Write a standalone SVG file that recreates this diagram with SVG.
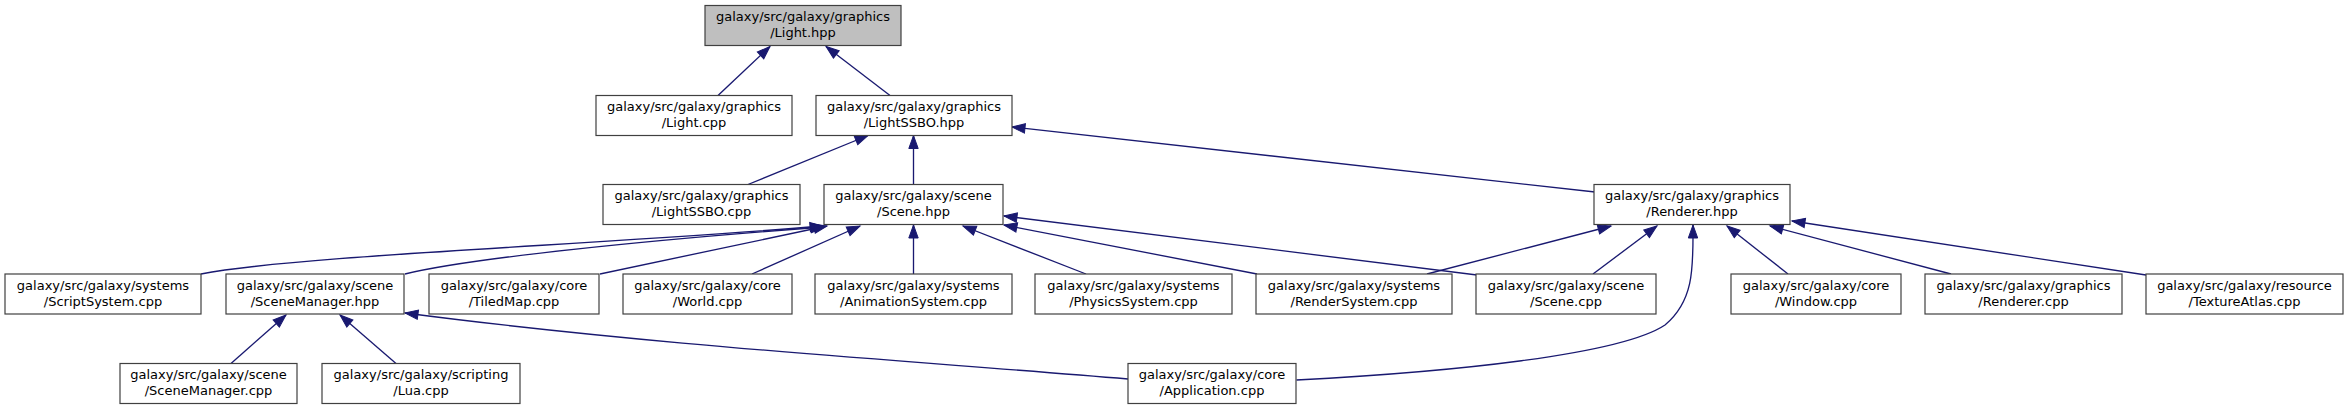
<svg xmlns="http://www.w3.org/2000/svg" width="2347" height="409" viewBox="0 0 2347 409">
<style>
.node rect{fill:#ffffff;stroke:#404040;stroke-width:1.2}
.root rect{fill:#bfbfbf}
text{font-family:"DejaVu Sans","Liberation Sans",sans-serif;font-size:13px;text-anchor:middle;fill:#000}
.edge path{fill:none;stroke:#191970;stroke-width:1.33;marker-end:url(#arr)}
</style>
<defs>
<marker id="arr" markerUnits="userSpaceOnUse" markerWidth="16" markerHeight="12" viewBox="0 0 16 12" refX="14" refY="6" orient="auto" overflow="visible">
<path d="M1,1.3 L14,6 L1,10.7 z" fill="#191970" stroke="#191970" stroke-width="1"/>
</marker>
</defs>
<rect width="2347" height="409" fill="#ffffff"/>
<g id="edges" class="edge">
<path d="M718,95.5 L770,46.5"/>
<path d="M890,95.5 L826,46.5"/>
<path d="M748,184.5 L868,135.5"/>
<path d="M913.5,184.5 L913.5,135.5"/>
<path d="M1595,192 L1012,127"/>
<path d="M201,274 C300,255 600,245 823,226"/>
<path d="M405,274 C470,258 650,240 824,227"/>
<path d="M600,274 L827,226"/>
<path d="M752,274 L860,226"/>
<path d="M913.5,274 L913.5,225"/>
<path d="M1086,274 L963,226"/>
<path d="M1257,274 L1004,225"/>
<path d="M1477,275 L1004,216"/>
<path d="M1427,274 L1611,226"/>
<path d="M1593,274 L1657,226"/>
<path d="M1296.5,380 C1450,372 1620,355 1665,325 C1695,300 1693,265 1693,225"/>
<path d="M1788,274 L1727,226"/>
<path d="M1951,274 L1770,226"/>
<path d="M2146,275 L1792,221"/>
<path d="M231,363.5 L286,315"/>
<path d="M396,363.5 L340,315"/>
<path d="M1128,379 C900,360 650,345 405,313"/>
</g>
<g id="n_light_hpp" class="node root"><rect x="705" y="5.5" width="196" height="40"/><text x="803" y="21">galaxy/src/galaxy/graphics</text><text x="803" y="37">/Light.hpp</text></g>
<g id="n_light_cpp" class="node"><rect x="596" y="95.5" width="196" height="40"/><text x="694" y="111">galaxy/src/galaxy/graphics</text><text x="694" y="127">/Light.cpp</text></g>
<g id="n_lightssbo_hpp" class="node"><rect x="816" y="95.5" width="196" height="40"/><text x="914" y="111">galaxy/src/galaxy/graphics</text><text x="914" y="127">/LightSSBO.hpp</text></g>
<g id="n_lightssbo_cpp" class="node"><rect x="603" y="184.5" width="197" height="40"/><text x="701.5" y="200">galaxy/src/galaxy/graphics</text><text x="701.5" y="216">/LightSSBO.cpp</text></g>
<g id="n_scene_hpp" class="node"><rect x="824" y="184.5" width="179" height="40"/><text x="913.5" y="200">galaxy/src/galaxy/scene</text><text x="913.5" y="216">/Scene.hpp</text></g>
<g id="n_renderer_hpp" class="node"><rect x="1594" y="184.5" width="196" height="40"/><text x="1692" y="200">galaxy/src/galaxy/graphics</text><text x="1692" y="216">/Renderer.hpp</text></g>
<g id="n_scriptsystem_cpp" class="node"><rect x="5" y="274" width="196" height="40"/><text x="103" y="289.5">galaxy/src/galaxy/systems</text><text x="103" y="305.5">/ScriptSystem.cpp</text></g>
<g id="n_scenemanager_hpp" class="node"><rect x="226" y="274" width="178" height="40"/><text x="315" y="289.5">galaxy/src/galaxy/scene</text><text x="315" y="305.5">/SceneManager.hpp</text></g>
<g id="n_tiledmap_cpp" class="node"><rect x="429" y="274" width="170" height="40"/><text x="514" y="289.5">galaxy/src/galaxy/core</text><text x="514" y="305.5">/TiledMap.cpp</text></g>
<g id="n_world_cpp" class="node"><rect x="623" y="274" width="169" height="40"/><text x="707.5" y="289.5">galaxy/src/galaxy/core</text><text x="707.5" y="305.5">/World.cpp</text></g>
<g id="n_animationsystem_cpp" class="node"><rect x="815" y="274" width="197" height="40"/><text x="913.5" y="289.5">galaxy/src/galaxy/systems</text><text x="913.5" y="305.5">/AnimationSystem.cpp</text></g>
<g id="n_physicssystem_cpp" class="node"><rect x="1035" y="274" width="197" height="40"/><text x="1133.5" y="289.5">galaxy/src/galaxy/systems</text><text x="1133.5" y="305.5">/PhysicsSystem.cpp</text></g>
<g id="n_rendersystem_cpp" class="node"><rect x="1256" y="274" width="196" height="40"/><text x="1354" y="289.5">galaxy/src/galaxy/systems</text><text x="1354" y="305.5">/RenderSystem.cpp</text></g>
<g id="n_scene_cpp" class="node"><rect x="1476" y="274" width="180" height="40"/><text x="1566" y="289.5">galaxy/src/galaxy/scene</text><text x="1566" y="305.5">/Scene.cpp</text></g>
<g id="n_window_cpp" class="node"><rect x="1731" y="274" width="170" height="40"/><text x="1816" y="289.5">galaxy/src/galaxy/core</text><text x="1816" y="305.5">/Window.cpp</text></g>
<g id="n_renderer_cpp" class="node"><rect x="1925" y="274" width="197" height="40"/><text x="2023.5" y="289.5">galaxy/src/galaxy/graphics</text><text x="2023.5" y="305.5">/Renderer.cpp</text></g>
<g id="n_textureatlas_cpp" class="node"><rect x="2146" y="274" width="197" height="40"/><text x="2244.5" y="289.5">galaxy/src/galaxy/resource</text><text x="2244.5" y="305.5">/TextureAtlas.cpp</text></g>
<g id="n_scenemanager_cpp" class="node"><rect x="120" y="363.5" width="177" height="40"/><text x="208.5" y="379">galaxy/src/galaxy/scene</text><text x="208.5" y="395">/SceneManager.cpp</text></g>
<g id="n_lua_cpp" class="node"><rect x="322" y="363.5" width="198" height="40"/><text x="421" y="379">galaxy/src/galaxy/scripting</text><text x="421" y="395">/Lua.cpp</text></g>
<g id="n_application_cpp" class="node"><rect x="1128" y="363.5" width="168" height="40"/><text x="1212" y="379">galaxy/src/galaxy/core</text><text x="1212" y="395">/Application.cpp</text></g>
</svg>
